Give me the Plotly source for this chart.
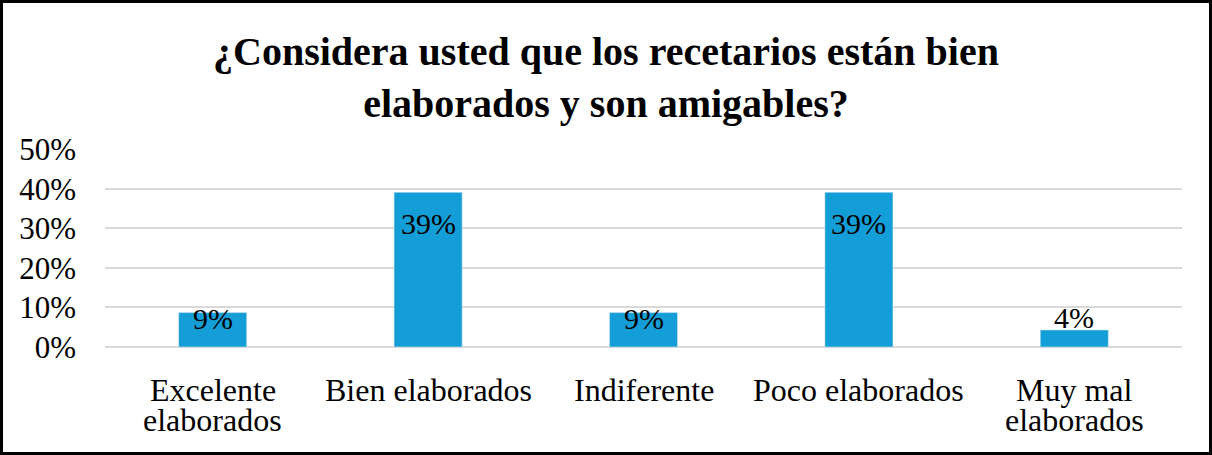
import plotly.graph_objects as go

# Survey results: share of answers per category
categories = ["Excelente<br>elaborados", "Bien elaborados", "Indiferente",
              "Poco elaborados", "Muy mal<br>elaborados"]
shares = [0.087, 0.391, 0.087, 0.391, 0.043]
y_ticks = [0, 0.1, 0.2, 0.3, 0.4, 0.5]
y_tick_labels = ["0%", "10%", "20%", "30%", "40%", "50%"]
title_lines = ["¿Considera usted que los recetarios están bien",
               "elaborados y son amigables?"]

W, H = 1212, 455
M_L, M_R, M_T, M_B = 105, 30, 149, 108
PW, PH = W - M_L - M_R, H - M_T - M_B
SERIF = "Liberation Serif, Times New Roman, serif"
BAR_COLOR = "#139ED7"
GRID = "#D9D9D9"

# Vertical offset (px) of each value label relative to its bar top
label_shift = [-6, -31, -6, -31, 12]
# Category label layout: first-line offset below the axis and line pitch (px)
CAT_TOP = 23
CAT_PITCH = 30

fig = go.Figure(go.Bar(
    x=categories, y=shares, marker_color=BAR_COLOR, width=0.316,
    hoverinfo="skip",
))

# Value labels
for cat, val, dy in zip(categories, shares, label_shift):
    fig.add_annotation(
        x=cat, y=val, text=f"{round(val * 100)}%", showarrow=False,
        yanchor="middle", yshift=dy,
        font=dict(family=SERIF, size=30, color="#000000"),
    )

# Category labels, one annotation per line for tight line spacing
for cat in categories:
    for i, line in enumerate(cat.split("<br>")):
        fig.add_annotation(
            x=cat, y=0, text=line, showarrow=False,
            yanchor="top", yshift=-(CAT_TOP + i * CAT_PITCH),
            font=dict(family=SERIF, size=32, color="#000000"),
        )

# Two-line title, centred on the whole figure
TITLE_TOP = 27
fig.add_annotation(
    xref="paper", yref="paper",
    x=(W / 2 - M_L) / PW, y=1 + (M_T - TITLE_TOP) / PH,
    xanchor="center", yanchor="top", showarrow=False,
    text="<b>" + "<br>".join(title_lines) + "</b>",
    font=dict(family=SERIF, size=40, color="#000000"),
)

# Outer frame around the whole chart
fig.add_shape(
    type="rect", xref="paper", yref="paper",
    x0=(1.5 - M_L) / PW, x1=(W - 1.5 - M_L) / PW,
    y0=-(M_B - 1.5) / PH, y1=1 + (M_T - 1.5) / PH,
    line=dict(color="#000000", width=3), layer="above",
)

fig.update_layout(
    width=W, height=H,
    margin=dict(l=M_L, r=M_R, t=M_T, b=M_B),
    paper_bgcolor="#FFFFFF", plot_bgcolor="#FFFFFF",
    showlegend=False,
    xaxis=dict(showticklabels=False, showgrid=False, showline=False, ticks=""),
    yaxis=dict(
        range=[0, 0.5005], tickvals=y_ticks, ticktext=y_tick_labels,
        tickfont=dict(family=SERIF, size=31, color="#000000"),
        showgrid=True, gridcolor=GRID, gridwidth=2,
        zeroline=True, zerolinecolor=GRID, zerolinewidth=2,
        showline=False, ticks="", ticklabelstandoff=28,
    ),
)

fig.write_html("out.html")
